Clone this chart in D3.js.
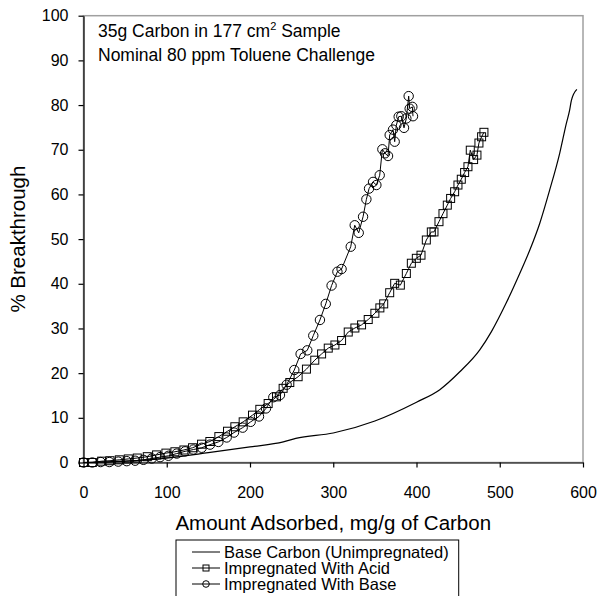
<!DOCTYPE html>
<html>
<head>
<meta charset="utf-8">
<script src="https://cdn.jsdelivr.net/npm/d3@7"></script>
<style>
  body { margin: 0; background: #fff; }
  svg { font-family: "Liberation Sans", Arial, sans-serif; }
</style>
</head>
<body>
<svg width="598" height="596"></svg>
<script>
// base carbon (unimpregnated) - plain line
var baseX = [0, 50, 100, 150, 200, 240, 255, 300, 350, 400, 428, 452, 476, 490, 508, 524, 536, 548, 560, 572, 580, 584, 586, 592.6];
var baseY = [0, 0.3, 1.0, 2.2, 3.5, 4.6, 5.4, 6.6, 9.3, 13.5, 16.3, 20.3, 25.2, 29.3, 35.8, 42.3, 47.5, 53.5, 61, 69.2, 75.9, 78.9, 81, 83.5];

// impregnated with acid - squares
var acidX = [0, 10.6, 21.8, 31.8, 43, 53.8, 64.6, 76.6, 87.8, 99, 109.8, 120.6, 131, 141.8, 151.8, 162.6, 173, 181.8, 191.8, 203, 211.8, 221.8, 231.8, 239.8, 247.8, 257.8, 267.8, 277.8, 286, 294, 302, 310, 318, 326, 334, 342, 350, 356, 360.6, 367.8, 373.8, 380.6, 387.8, 393.8, 399.8, 405.4, 411.8, 417.8, 421, 427, 431.8, 437, 441, 445.8, 449.8, 453.8, 457.8, 461.8, 464.6, 468.6, 472.6, 475, 478.2, 481];
var acidY = [0, 0, 0.3, 0.4, 0.6, 0.8, 1.0, 1.3, 1.7, 2.1, 2.4, 2.8, 3.3, 4.1, 4.7, 5.8, 7.0, 8.0, 9.1, 10.6, 11.9, 13.2, 14.7, 16.6, 17.9, 19.2, 20.9, 22.9, 24.3, 25.6, 26.3, 27.3, 29.2, 30.1, 30.8, 32.0, 33.4, 34.6, 35.5, 38, 40.1, 39.7, 42.3, 44.6, 45.7, 46.4, 49.8, 51.6, 51.6, 53.9, 55.7, 57.6, 59.1, 60.6, 62.1, 63.4, 64.9, 66.2, 69.9, 67.8, 68.8, 71.5, 72.9, 73.9];

// impregnated with base - circles
var impBaseX = [0, 10.6, 20.6, 31, 41.8, 52, 62, 72, 82, 92, 102, 112, 122, 132, 142, 152, 162, 172, 180.8, 191.2, 200.8, 210.8, 219.2, 228, 236, 244, 253.2, 260.8, 268.8, 276, 284, 291, 298, 305, 310, 321, 325.8, 330.6, 335.8, 339.8, 343, 347.8, 351.8, 355.8, 359, 362.2, 365.8, 367.8, 371.8, 373.8, 375.8, 378.6, 381.8, 385, 387.8, 390.6, 391.8, 395, 395.8];
var impBaseY = [0, 0, 0.1, 0.1, 0.2, 0.3, 0.4, 0.6, 0.9, 1.2, 1.5, 2.0, 2.5, 2.9, 3.3, 4.0, 4.6, 5.6, 6.7, 7.8, 9.1, 10.3, 12.1, 14.6, 15.1, 17.4, 20.7, 24.3, 25.1, 28.4, 31.9, 35.5, 39.6, 42.7, 43.3, 48.3, 53.1, 51.4, 55, 58.9, 61.3, 62.8, 62.1, 64.3, 70.1, 69.2, 68.6, 73.3, 74.5, 71.8, 75.5, 77.4, 77.5, 74.9, 77, 82, 79.2, 79.6, 77.5];

var xTicks = [0, 100, 200, 300, 400, 500, 600];
var yTicks = [0, 10, 20, 30, 40, 50, 60, 70, 80, 90, 100];
var legendNames = ["Base Carbon (Unimpregnated)", "Impregnated With Acid", "Impregnated With Base"];

var svg = d3.select("svg");

var x = d3.scaleLinear().domain([0, 600]).range([83.5, 583]);
var y = d3.scaleLinear().domain([0, 100]).range([462.5, 15.7]);

var zip = function(xs, ys) {
    return xs.map(function(v, i) { return [v, ys[i]]; });
};

// plot frame (grey top / right)
svg.append("rect")
    .attr("x", x(0)).attr("y", y(100))
    .attr("width", x(600) - x(0)).attr("height", y(0) - y(100))
    .attr("fill", "none").attr("stroke", "#a0a0a0").attr("stroke-width", 1.5);

// axes
var xAxis = svg.append("g")
    .attr("transform", "translate(0," + y(0) + ")")
    .call(d3.axisBottom(x).tickValues(xTicks).tickSize(5).tickPadding(19).tickSizeOuter(0));
var yAxis = svg.append("g")
    .attr("transform", "translate(" + x(0) + ",0)")
    .call(d3.axisLeft(y).tickValues(yTicks).tickSize(5).tickPadding(10).tickSizeOuter(0));

[xAxis, yAxis].forEach(function(g) {
    g.selectAll("path, line").attr("stroke", "#000").attr("stroke-width", 1.2);
    g.selectAll("text").attr("font-size", "16px").attr("fill", "#000")
        .attr("font-family", "Liberation Sans, Arial, sans-serif");
});

// axis titles
svg.append("text")
    .attr("x", (x(0) + x(600)) / 2).attr("y", 530)
    .attr("text-anchor", "middle").attr("font-size", "20.5px")
    .text("Amount Adsorbed, mg/g of Carbon");
svg.append("text")
    .attr("transform", "translate(25," + (y(0) + y(100)) / 2 + ") rotate(-90)")
    .attr("text-anchor", "middle").attr("font-size", "20.5px")
    .text("% Breakthrough");

// annotation
var note = svg.append("text").attr("x", 98).attr("y", 37).attr("font-size", "17.5px");
note.append("tspan").text("35g Carbon in 177 cm");
note.append("tspan").attr("font-size", "11px").attr("dy", -7).text("2");
note.append("tspan").attr("dy", 7).text(" Sample");
svg.append("text").attr("x", 98).attr("y", 61).attr("font-size", "17.5px")
    .text("Nominal 80 ppm Toluene Challenge");

// series
var line = d3.line().x(function(d) { return x(d[0]); }).y(function(d) { return y(d[1]); });

svg.append("path")
    .datum(zip(baseX, baseY))
    .attr("d", line.curve(d3.curveMonotoneX))
    .attr("fill", "none").attr("stroke", "#000").attr("stroke-width", 1.2);

line.curve(d3.curveLinear);

var acid = zip(acidX, acidY);
svg.append("path").datum(acid).attr("d", line)
    .attr("fill", "none").attr("stroke", "#000").attr("stroke-width", 1);
svg.append("g").selectAll("rect").data(acid).enter().append("rect")
    .attr("x", function(d) { return x(d[0]) - 4; })
    .attr("y", function(d) { return y(d[1]) - 4; })
    .attr("width", 8).attr("height", 8)
    .attr("fill", "none").attr("stroke", "#000").attr("stroke-width", 1);

var imp = zip(impBaseX, impBaseY);
svg.append("path").datum(imp).attr("d", line)
    .attr("fill", "none").attr("stroke", "#000").attr("stroke-width", 1);
svg.append("g").selectAll("circle").data(imp).enter().append("circle")
    .attr("cx", function(d) { return x(d[0]); })
    .attr("cy", function(d) { return y(d[1]); })
    .attr("r", 4.7)
    .attr("fill", "none").attr("stroke", "#000").attr("stroke-width", 1);

// legend
var leg = svg.append("g");
var legBox = leg.append("rect").attr("x", 176).attr("y", 540).attr("height", 80)
    .attr("fill", "#fff").attr("stroke", "#000").attr("stroke-width", 1);
var maxW = 0;
legendNames.forEach(function(name, i) {
    var ly = 552 + i * 16;
    leg.append("line").attr("x1", 192).attr("x2", 220).attr("y1", ly).attr("y2", ly)
        .attr("stroke", "#000").attr("stroke-width", 1);
    if (i == 1) {
        leg.append("rect").attr("x", 203).attr("y", ly - 3).attr("width", 6).attr("height", 6)
            .attr("fill", "none").attr("stroke", "#000");
    } else if (i == 2) {
        leg.append("circle").attr("cx", 206).attr("cy", ly).attr("r", 3.3)
            .attr("fill", "none").attr("stroke", "#000");
    }
    var t = leg.append("text").attr("x", 224).attr("y", ly + 6).attr("font-size", "16.5px").text(name);
    maxW = Math.max(maxW, t.node().getComputedTextLength());
});
legBox.attr("width", 224 + maxW + 10 - 176);
</script>
</body>
</html>
